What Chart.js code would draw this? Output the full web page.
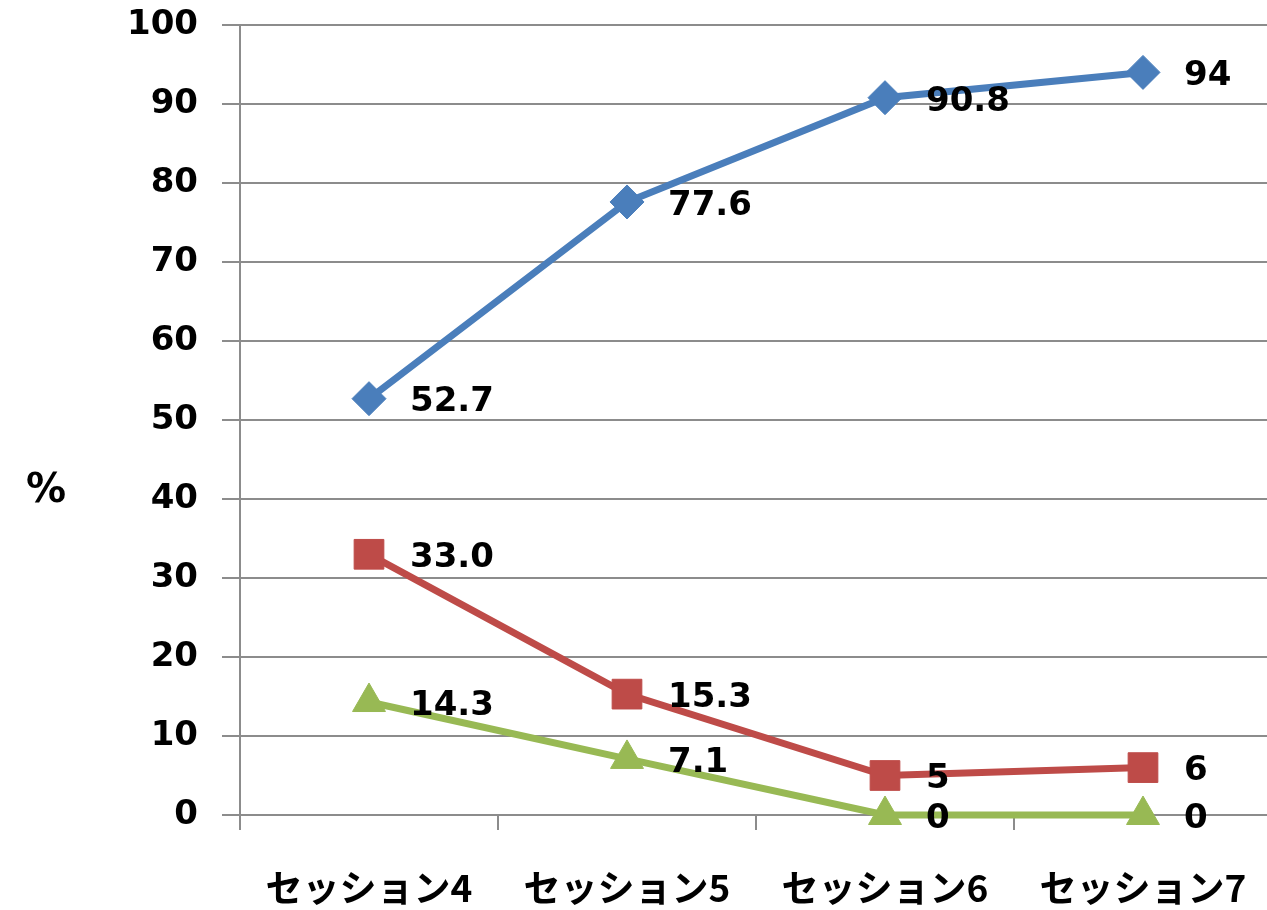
<!DOCTYPE html>
<html lang="ja">
<head>
<meta charset="utf-8">
<title>セッション別割合</title>
<script src="https://cdn.jsdelivr.net/npm/chart.js@4/dist/chart.umd.min.js"></script>
<style>
  html, body { margin: 0; padding: 0; background: #ffffff; overflow: hidden; }
  #wrap { width: 1272px; height: 910px; }
</style>
</head>
<body>
<div id="wrap"><canvas id="chart" width="1272" height="910"></canvas></div>
<script>
// Categories and y-axis ticks
const sessions = ['セッション4', 'セッション5', 'セッション6', 'セッション7'];
const yTicks = [0, 10, 20, 30, 40, 50, 60, 70, 80, 90, 100];

// Series values as printed beside each point
const blueText  = ['52.7', '77.6', '90.8', '94'];
const redText   = ['33.0', '15.3', '5', '6'];
const greenText = ['14.3', '7.1', '0', '0'];

const blueValues  = blueText.map(Number);
const redValues   = redText.map(Number);
const greenValues = greenText.map(Number);

const labelFont = 'bold 34px "DejaVu Sans", sans-serif';
const gridColor = '#8c8c8c';

// Value labels placed to the right of each marker
const valueLabels = {
  id: 'valueLabels',
  afterDatasetsDraw(chart) {
    const ctx = chart.ctx;
    ctx.save();
    ctx.font = labelFont;
    ctx.fillStyle = '#000000';
    ctx.textAlign = 'left';
    ctx.textBaseline = 'middle';
    chart.data.datasets.forEach((ds, i) => {
      const meta = chart.getDatasetMeta(i);
      meta.data.forEach((pt, j) => {
        ctx.fillText(ds.labelText[j], pt.x + 41, pt.y + 4);
      });
    });
    ctx.restore();
  }
};

// Unrotated "%" title left of the y axis
const percentTitle = {
  id: 'percentTitle',
  afterDraw(chart) {
    const ctx = chart.ctx;
    const y = chart.scales.y.getPixelForValue(40) - 7;
    ctx.save();
    ctx.font = 'bold 40px "DejaVu Sans", sans-serif';
    ctx.fillStyle = '#000000';
    ctx.textAlign = 'center';
    ctx.textBaseline = 'middle';
    ctx.fillText('%', 46, y);
    ctx.restore();
  }
};

new Chart(document.getElementById('chart'), {
  type: 'line',
  data: {
    labels: sessions,
    datasets: [
      {
        label: 'A',
        data: blueValues,
        labelText: blueText,
        borderColor: '#4a7ebb',
        backgroundColor: '#4a7ebb',
        borderWidth: 7,
        pointStyle: 'rectRot',
        pointRadius: 17,
        pointBorderWidth: 1,
        clip: false
      },
      {
        label: 'B',
        data: redValues,
        labelText: redText,
        borderColor: '#be4b48',
        backgroundColor: '#be4b48',
        borderWidth: 7,
        pointStyle: 'rect',
        pointRadius: 21,
        pointBorderWidth: 1,
        clip: false
      },
      {
        label: 'C',
        data: greenValues,
        labelText: greenText,
        borderColor: '#98b954',
        backgroundColor: '#98b954',
        borderWidth: 7,
        pointStyle: 'triangle',
        pointRadius: 19,
        pointBorderWidth: 1,
        clip: false
      }
    ]
  },
  options: {
    responsive: false,
    animation: false,
    devicePixelRatio: 1,
    layout: { autoPadding: false, padding: { top: 25, right: 0, bottom: 0, left: 0 } },
    plugins: {
      legend: { display: false },
      tooltip: { enabled: false }
    },
    elements: { line: { tension: 0 } },
    scales: {
      x: {
        offset: true,
        grid: {
          offset: true,
          drawOnChartArea: false,
          drawTicks: true,
          tickLength: 15,
          color: gridColor,
          lineWidth: 2
        },
        border: { color: gridColor, width: 2 },
        ticks: {
          color: '#000000',
          padding: 36,
          maxRotation: 0,
          font: { family: '"Noto Sans CJK JP", sans-serif', size: 37, weight: 'bold' }
        },
        afterFit(scale) {
          scale.height = 95;
          scale.paddingLeft = 0;
          scale.paddingRight = 0;
        }
      },
      y: {
        min: 0,
        max: 100,
        afterBuildTicks(scale) { scale.ticks = yTicks.map(v => ({ value: v })); },
        grid: {
          color: gridColor,
          lineWidth: 2,
          tickLength: 18
        },
        border: { color: gridColor, width: 2 },
        ticks: {
          color: '#000000',
          padding: 24,
          font: { family: '"DejaVu Sans", sans-serif', size: 34, weight: 'bold' }
        },
        afterFit(scale) {
          scale.width = 240;
          scale.paddingTop = 0;
          scale.paddingBottom = 0;
        }
      }
    }
  },
  plugins: [valueLabels, percentTitle]
});
</script>
</body>
</html>
